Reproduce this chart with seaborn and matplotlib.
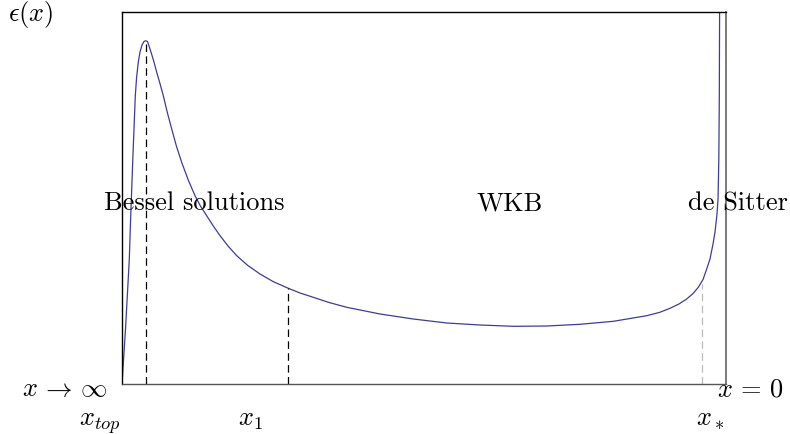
import matplotlib
matplotlib.use("Agg")
import matplotlib.pyplot as plt
import seaborn as sns
import pandas as pd

# curve samples (x in 0..100 across the box, y in 0..100 up the box)
curve_x = [0, 0.58, 0.88, 1.21, 1.37, 1.77, 2.20, 2.42, 2.70, 2.98, 3.31, 3.64,
           3.92, 4.22, 4.64, 5.20, 5.75, 6.30, 6.84, 7.50, 8.23, 9.00, 9.88,
           10.95, 12.09, 13.00, 14.02, 15.10, 16.23, 17.55, 18.99, 20.80,
           22.85, 25.00, 27.53, 29.50, 31.67, 34.30, 37.20, 42.72, 48.23, 53.76,
           59.27, 64.78, 70.31, 75.83, 81.34, 86.87, 89.00, 90.73, 92.20, 93.49,
           94.50, 95.41, 96.20, 96.80, 97.35, 97.85, 98.18, 98.51, 98.68, 98.81,
           98.89, 98.94]
curve_y = [0, 14.78, 23.66, 33.60, 41.67, 59.68, 77.42, 82.5, 86.56, 89.25, 91.13,
           92.07, 92.28, 92.07, 90.05, 87.10, 83.79, 80.70, 77.50, 73.00, 68.55,
           64.00, 59.60, 54.90, 50.62, 47.80, 45.24, 42.50, 39.87, 37.10, 34.49,
           31.90, 29.57, 27.55, 25.73, 24.45, 23.31, 21.90, 20.62, 18.82, 17.47,
           16.40, 15.86, 15.51, 15.59, 16.05, 16.85, 18.36, 19.25, 20.35, 21.50,
           22.85, 24.25, 25.99, 28.10, 30.91, 33.60, 37.63, 40.86, 45.70, 49.73,
           60.48, 76.61, 100]

# marker positions
x_top, y_top = 3.92, 92.28
x_one, y_one = 27.53, 25.73
x_star, y_star = 96.03, 27.0

region_labels = ["Bessel solutions", "WKB", "de Sitter"]
region_x = [11.9, 64.2, 102.0]
region_y = 47.0

tick_labels = [r"$x_{top}$", r"$x_1$", r"$x_*$"]
tick_label_x = [-3.6, 21.2, 97.4]
tick_label_y = -11.0

sns.set_theme(style="white")
plt.rcParams["font.family"] = ["cmr10", "DejaVu Serif"]
plt.rcParams["mathtext.fontset"] = "cm"
plt.rcParams["axes.formatter.use_mathtext"] = True
plt.rcParams["text.color"] = "black"

fig = plt.figure(figsize=(7.9, 4.35), dpi=100)
ax = fig.add_axes([122 / 790, 50 / 435, 604 / 790, 372 / 435])

df = pd.DataFrame({"x": curve_x, "y": curve_y})
sns.lineplot(data=df, x="x", y="y", sort=False, estimator=None, ax=ax,
             color="#3c3c9c", linewidth=0.9)

dash = (0, (6, 3.5))
ax.plot([x_top, x_top], [0, y_top], color="black", ls=dash, lw=0.9)
ax.plot([x_one, x_one], [0, y_one], color="black", ls=dash, lw=0.9)
ax.plot([x_star, x_star], [0, y_star], color="#bbbbbb", ls=dash, lw=0.9)

ax.set_xlim(0, 100)
ax.set_ylim(0, 100)
ax.set_xticks([])
ax.set_yticks([])
ax.set_xlabel("")
ax.set_ylabel("")
for s in ["left", "top"]:
    ax.spines[s].set_color("black")
    ax.spines[s].set_linewidth(1.0)
ax.spines["bottom"].set_color("#555555")
ax.spines["bottom"].set_linewidth(1.0)
ax.spines["right"].set_color("#707070")
ax.spines["right"].set_linewidth(1.3)

fs = 19
for lab, xx in zip(region_labels, region_x):
    ax.text(xx, region_y, lab, ha="center", va="baseline", fontsize=fs,
            color="black", clip_on=False)
for lab, xx in zip(tick_labels, tick_label_x):
    ax.text(xx, tick_label_y, lab, ha="center", va="baseline", fontsize=fs,
            color="black", clip_on=False)

ax.text(-2.5, -3.0, r"$x\,\rightarrow\,\infty$", ha="right", va="baseline",
        fontsize=fs, color="black", clip_on=False)
ax.text(98.5, -3.0, r"$x\,=\,0$", ha="left", va="baseline", fontsize=fs,
        color="black", clip_on=False)
ax.text(-18.9, 97.8, r"$\epsilon(x)$", ha="left", va="baseline", fontsize=fs,
        color="black", clip_on=False)

fig.savefig("out.png", dpi=100)
